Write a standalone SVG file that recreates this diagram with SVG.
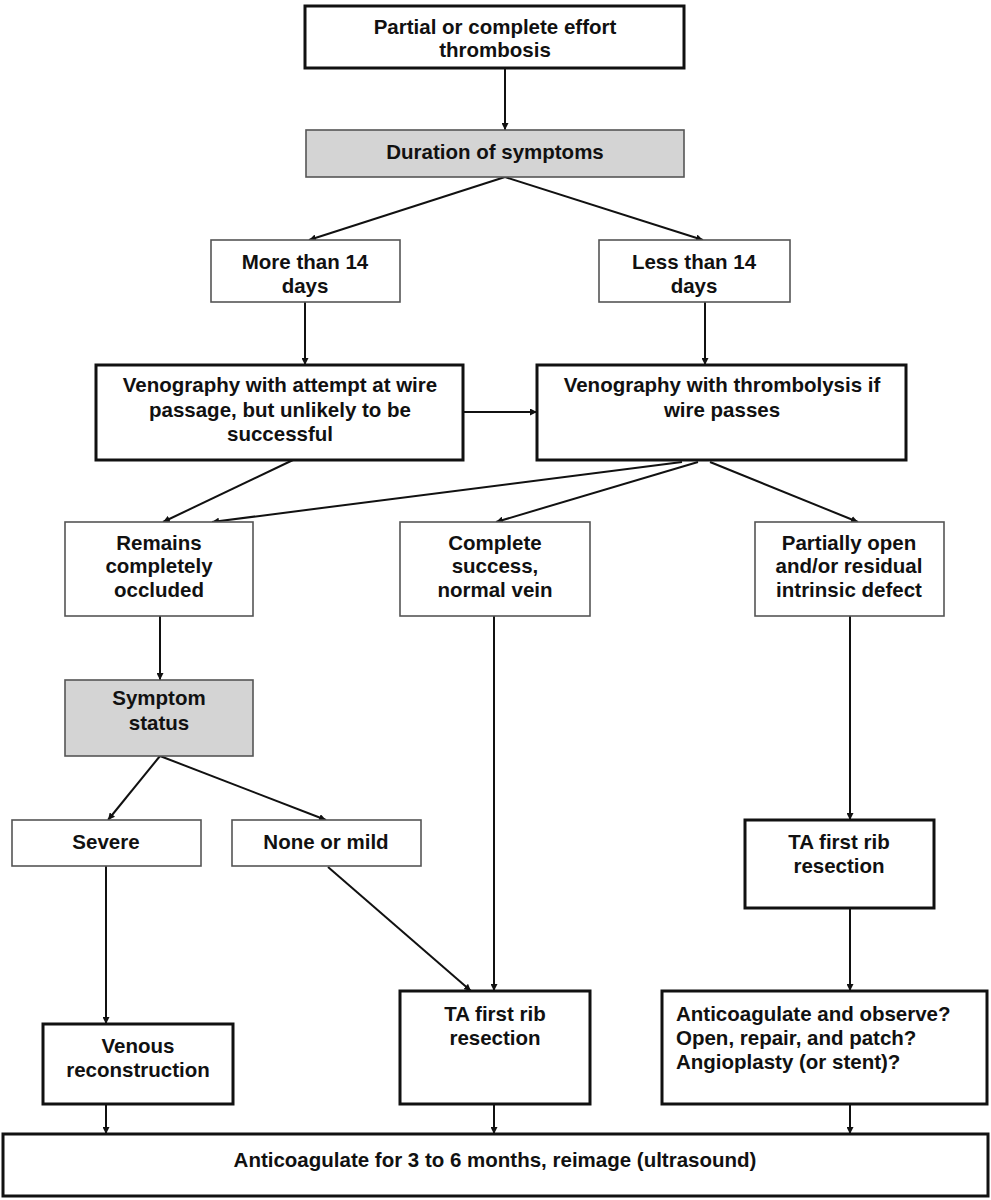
<svg xmlns="http://www.w3.org/2000/svg" width="991" height="1200" viewBox="0 0 991 1200">
<style>
.thick{fill:#fff;stroke:#111;stroke-width:3}
.thin{fill:#fff;stroke:#555;stroke-width:1.6}
.gray{fill:#d4d4d4;stroke:#555;stroke-width:1.6}
text{font-family:"Liberation Sans",Arial,sans-serif;font-weight:bold;font-size:20.5px;fill:#111;text-anchor:middle}
.l{text-anchor:start}
.c{stroke:#111;stroke-width:2;fill:none;marker-end:url(#ah)}
</style>
<defs>
<marker id="ah" viewBox="0 0 10 10" refX="10" refY="5" markerWidth="7" markerHeight="7" orient="auto" markerUnits="userSpaceOnUse">
<path d="M0,0 L10,5 L0,10 z" fill="#111"/>
</marker>
</defs>
<rect width="991" height="1200" fill="#fff"/>
<g id="connectors">
<line class="c" x1="505" y1="68" x2="505" y2="130"/>
<line class="c" x1="505" y1="177" x2="309" y2="240"/>
<line class="c" x1="505" y1="177" x2="703" y2="240"/>
<line class="c" x1="305" y1="302" x2="305" y2="365"/>
<line class="c" x1="705" y1="302" x2="705" y2="365"/>
<line class="c" x1="463" y1="412" x2="537" y2="412"/>
<line class="c" x1="293" y1="460" x2="163" y2="522"/>
<line class="c" x1="682" y1="462" x2="212" y2="522"/>
<line class="c" x1="698" y1="462" x2="496" y2="522"/>
<line class="c" x1="710" y1="462" x2="858" y2="522"/>
<line class="c" x1="160" y1="616" x2="160" y2="680"/>
<line class="c" x1="160" y1="756" x2="108" y2="820"/>
<line class="c" x1="160" y1="756" x2="326" y2="820"/>
<line class="c" x1="106" y1="866" x2="106" y2="1024"/>
<line class="c" x1="328" y1="867" x2="471" y2="991"/>
<line class="c" x1="494" y1="616" x2="494" y2="991"/>
<line class="c" x1="850" y1="616" x2="850" y2="820"/>
<line class="c" x1="850" y1="908" x2="850" y2="991"/>
<line class="c" x1="106" y1="1104" x2="106" y2="1134"/>
<line class="c" x1="494" y1="1104" x2="494" y2="1134"/>
<line class="c" x1="850" y1="1104" x2="850" y2="1134"/>
</g>
<g id="n1"><rect class="thick" x="305" y="6" width="379" height="62"/><text x="495" y="34">Partial or complete effort</text><text x="495" y="57">thrombosis</text></g>
<g id="n2"><rect class="gray" x="306" y="130" width="378" height="47"/><text x="495" y="159">Duration of symptoms</text></g>
<g id="n3"><rect class="thin" x="211" y="240" width="189" height="62"/><text x="305" y="269">More than 14</text><text x="305" y="293">days</text></g>
<g id="n4"><rect class="thin" x="599" y="240" width="191" height="62"/><text x="694" y="269">Less than 14</text><text x="694" y="293">days</text></g>
<g id="n5"><rect class="thick" x="96" y="365" width="367" height="95"/><text x="280" y="392">Venography with attempt at wire</text><text x="280" y="417">passage, but unlikely to be</text><text x="280" y="441">successful</text></g>
<g id="n6"><rect class="thick" x="537" y="365" width="369" height="95"/><text x="722" y="392">Venography with thrombolysis if</text><text x="722" y="417">wire passes</text></g>
<g id="n7"><rect class="thin" x="65" y="522" width="188" height="94"/><text x="159" y="550">Remains</text><text x="159" y="573">completely</text><text x="159" y="597">occluded</text></g>
<g id="n8"><rect class="thin" x="400" y="522" width="190" height="94"/><text x="495" y="550">Complete</text><text x="495" y="573">success,</text><text x="495" y="597">normal vein</text></g>
<g id="n9"><rect class="thin" x="755" y="522" width="189" height="94"/><text x="849" y="550">Partially open</text><text x="849" y="573">and/or residual</text><text x="849" y="597">intrinsic defect</text></g>
<g id="n10"><rect class="gray" x="65" y="680" width="188" height="76"/><text x="159" y="705">Symptom</text><text x="159" y="730">status</text></g>
<g id="n11"><rect class="thin" x="12" y="820" width="189" height="46"/><text x="106" y="849">Severe</text></g>
<g id="n12"><rect class="thin" x="232" y="820" width="189" height="46"/><text x="326" y="849">None or mild</text></g>
<g id="n13"><rect class="thick" x="745" y="820" width="189" height="88"/><text x="839" y="849">TA first rib</text><text x="839" y="873">resection</text></g>
<g id="n14"><rect class="thick" x="43" y="1024" width="190" height="80"/><text x="138" y="1053">Venous</text><text x="138" y="1077">reconstruction</text></g>
<g id="n15"><rect class="thick" x="400" y="991" width="190" height="113"/><text x="495" y="1021">TA first rib</text><text x="495" y="1045">resection</text></g>
<g id="n16"><rect class="thick" x="662" y="991" width="325" height="113"/><text class="l" x="676" y="1021">Anticoagulate and observe?</text><text class="l" x="676" y="1045">Open, repair, and patch?</text><text class="l" x="676" y="1069">Angioplasty (or stent)?</text></g>
<g id="n17"><rect class="thick" x="3" y="1134" width="985" height="62"/><text x="495" y="1167">Anticoagulate for 3 to 6 months, reimage (ultrasound)</text></g>
</svg>
